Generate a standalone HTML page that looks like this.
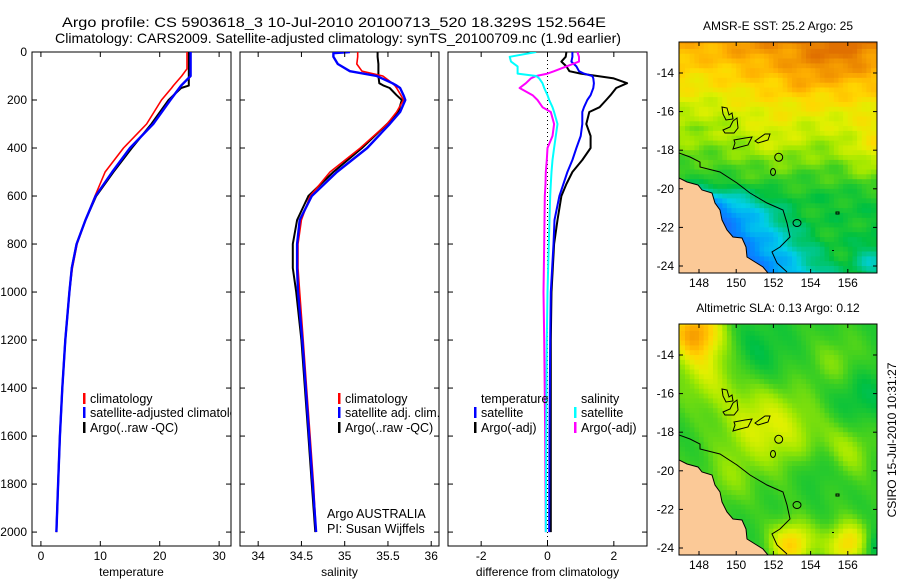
<!DOCTYPE html>
<html><head><meta charset="utf-8"><style>
html,body{margin:0;padding:0;background:#fff}
svg{display:block;font-family:"Liberation Sans",sans-serif}
</style></head><body>
<svg id="fig" width="900" height="580" viewBox="0 0 900 580" xmlns="http://www.w3.org/2000/svg">
<rect width="900" height="580" fill="#fff"/>
<text x="62" y="27" font-size="14" textLength="544" lengthAdjust="spacingAndGlyphs">Argo profile: CS 5903618_3 10-Jul-2010 20100713_520 18.329S 152.564E</text>
<text x="55" y="43" font-size="14" textLength="566" lengthAdjust="spacingAndGlyphs">Climatology: CARS2009. Satellite-adjusted climatology: synTS_20100709.nc (1.9d earlier)</text>
<g id="g1"></g><g id="g2"></g><g id="g3"></g><g id="m1"></g><g id="m2"></g>
<text transform="translate(896,440) rotate(-90)" text-anchor="middle" font-size="12">CSIRO 15-Jul-2010 10:31:27</text>
</svg>
<script>
// ---- data ----
const tempDepths=[0,70,100,140,150,200,300,400,500,600,700,800,900,1000,1200,1400,1600,1800,2000];
const tempClim=[24.6,24.6,23.7,22.3,22,20.3,17.8,13.9,10.8,9.1,7.5,6.1,5.3,4.8,4.1,3.6,3.2,2.9,2.6];
const tempSat=[25.2,25.2,25.2,23.6,23.3,21.8,18.9,15.0,12.0,9.2,7.5,6.0,5.2,4.8,4.1,3.6,3.2,2.9,2.6];
const tempArgo=[24.9,24.9,24.9,24.9,23.6,21.5,18.6,15.3,12.2,9.3,7.5,6.0,5.2,4.8,4.1,3.6,3.2,2.9,2.6];
const salDepths=[0,5,20,50,80,100,130,140,150,180,200,250,300,400,500,600,700,800,900,1000,1200,1400,1600,1800,2000];
const salClim=[35.15,35.15,35.15,35.14,35.2,35.44,35.55,35.58,35.6,35.65,35.68,35.6,35.49,35.18,34.83,34.6,34.5,34.46,34.46,34.48,34.52,34.56,34.6,34.64,34.67];
const salSat=[35.06,34.87,34.87,34.92,35.06,35.37,35.55,35.6,35.64,35.68,35.7,35.64,35.52,35.26,34.91,34.62,34.48,34.45,34.45,34.46,34.51,34.55,34.59,34.63,34.67];
const salArgo=[35.38,35.38,35.38,35.39,35.39,35.39,35.4,35.45,35.52,35.6,35.66,35.62,35.49,35.2,34.87,34.58,34.45,34.40,34.40,34.44,34.5,34.54,34.58,34.62,34.66];
const diffDepths=[0,20,40,60,80,90,100,110,130,150,180,200,230,250,300,350,400,450,500,550,600,700,800,1000,1200,1600,2000];
const diffTempSat=[0.75,0.75,0.72,0.87,0.95,1.1,1.35,1.38,1.4,1.38,1.3,1.2,1.1,1.05,1.05,1.0,0.87,0.75,0.6,0.48,0.36,0.21,0.18,0.1,0.08,0.06,0.05];
const diffTempArgo=[0.57,0.55,0.42,0.57,0.66,1.0,1.5,2.0,2.4,2.07,1.9,1.77,1.57,1.26,1.17,1.3,1.3,1.05,0.75,0.57,0.42,0.3,0.2,0.12,0.1,0.1,0.1];
const diffSalSat=[-0.34,-1.14,-1.1,-0.9,-0.9,-0.9,-0.34,-0.25,-0.15,-0.1,0.0,0.05,0.15,0.2,0.3,0.25,0.2,0.15,0.12,0.1,0.08,0.06,0.04,0.0,-0.02,-0.04,-0.05];
const diffSalArgo=[0.9,0.95,0.95,0.57,0.2,0.0,-0.34,-0.5,-0.65,-0.84,-0.45,-0.3,-0.15,0.1,0.2,0.15,0.0,-0.02,-0.05,-0.06,-0.08,-0.09,-0.1,-0.12,-0.1,-0.07,-0.05];
const depthTicks=[0,200,400,600,800,1000,1200,1400,1600,1800,2000];
const tempTicks=[0,10,20,30];
const salTicks=[34,34.5,35,35.5,36];
const diffTicks=[-2,0,2];
const lonTicks=[148,150,152,154,156];
const latTicks=[-14,-16,-18,-20,-22,-24];

const NS="http://www.w3.org/2000/svg";
function el(tag,attrs,parent,txt){const e=document.createElementNS(NS,tag);for(const k in attrs)e.setAttribute(k,attrs[k]);if(txt!==undefined)e.textContent=txt;parent.appendChild(e);return e;}
const TOP=52,BOT=546;
const yD=d=>TOP+d*(BOT-TOP)/2058;

function panel(gid,name,x0,x1,xmin,xmax,xticks,xlabel,showDepth){
  const g=document.getElementById(gid);
  const xs=v=>x0+(v-xmin)*(x1-x0)/(xmax-xmin);
  const r=el('rect',{x:x0,y:TOP,width:x1-x0,height:BOT-TOP,fill:'#fff',stroke:'#000','stroke-width':1},g);
  
  
  const cp=el('clipPath',{id:'cp'+gid},g);el('rect',{x:x0,y:TOP,width:x1-x0,height:BOT-TOP},cp);
  const inner=el('g',{'clip-path':'url(#cp'+gid+')'},g);
  xticks.forEach(t=>{const x=xs(t);
    el('line',{x1:x,x2:x,y1:TOP,y2:TOP+5,stroke:'#000'},g);
    el('line',{x1:x,x2:x,y1:BOT,y2:BOT-5,stroke:'#000'},g);
    const tx=el('text',{x:x,y:BOT+14,'text-anchor':'middle','font-size':12},g,String(t));
    
    
  });
  depthTicks.forEach(d=>{const y=yD(d);
    el('line',{x1:x0,x2:x0+5,y1:y,y2:y,stroke:'#000'},g);
    el('line',{x1:x1,x2:x1-5,y1:y,y2:y,stroke:'#000'},g);
    if(showDepth){const tx=el('text',{x:x0-5,y:y+4,'text-anchor':'end','font-size':12},g,String(d));
      
      }
  });
  const lb=el('text',{x:(x0+x1)/2,y:BOT+30,'text-anchor':'middle','font-size':12},g,xlabel);
  
  
  return {g:inner,xs};
}
function series(p,depths,vals,color,w,name){
  const pts=depths.map((d,i)=>p.xs(vals[i]).toFixed(1)+','+yD(d).toFixed(1)).join(' ');
  const l=el('polyline',{points:pts,fill:'none',stroke:color,'stroke-width':w,'stroke-linejoin':'round'},p.g);
  
  
}
function legend(g,x,y,color,label,name){
  el('rect',{x:x,y:y-10,width:2.5,height:11,fill:color},g);
  const t=el('text',{x:x+7,y:y,'font-size':12.5},g,label);
  
  
}
// panel 1
const p1=panel('g1','temperature',32,231,-1.5,32,tempTicks,'temperature',true);
series(p1,tempDepths,tempArgo,'#000',2,'argo-temperature-line');
series(p1,tempDepths,tempClim,'#f00',1.6,'climatology-temperature-line');
series(p1,tempDepths,tempSat,'#00f',2.4,'satellite-temperature-line');
legend(p1.g,83,403,'#f00','climatology','legend-climatology');
legend(p1.g,83,417,'#00f','satellite-adjusted climatology','legend-satellite-adjusted');
legend(p1.g,83,432,'#000','Argo(..raw -QC)','legend-argo');
// panel 2
const p2=panel('g2','salinity',240,439,33.79,36.09,salTicks,'salinity',false);
series(p2,salDepths,salArgo,'#000',2,'argo-salinity-line');
series(p2,salDepths,salClim,'#f00',1.6,'climatology-salinity-line');
series(p2,salDepths,salSat,'#00f',2.4,'satellite-salinity-line');
legend(p2.g,338,403,'#f00','climatology','legend-sal-climatology');
legend(p2.g,338,417,'#00f','satellite adj. clim.','legend-sal-satellite');
legend(p2.g,338,432,'#000','Argo(..raw -QC)','legend-sal-argo');
const a1=el('text',{x:327,y:518,'font-size':12.5},p2.g,'Argo AUSTRALIA');

const a2=el('text',{x:327,y:533,'font-size':12.5},p2.g,'PI: Susan Wijffels');

// panel 3
const p3=panel('g3','difference',448,647,-3,3,diffTicks,'difference from climatology',false);
el('line',{x1:p3.xs(0),x2:p3.xs(0),y1:TOP,y2:BOT,stroke:'#000','stroke-dasharray':'1,3'},p3.g);
series(p3,diffDepths,diffTempArgo,'#000',2,'argo-temperature-diff-line');
series(p3,diffDepths,diffTempSat,'#00f',2,'satellite-temperature-diff-line');
series(p3,diffDepths,diffSalArgo,'#f0f',2,'argo-salinity-diff-line');
series(p3,diffDepths,diffSalSat,'#0ff',2,'satellite-salinity-diff-line');
const h1=el('text',{x:481,y:403,'font-size':12.5},p3.g,'temperature');
const h2=el('text',{x:581,y:403,'font-size':12.5},p3.g,'salinity');
legend(p3.g,474,417,'#00f','satellite','legend-temp-satellite');
legend(p3.g,474,432,'#000','Argo(-adj)','legend-temp-argo');
legend(p3.g,574,417,'#0ff','satellite','legend-sal-satellite-diff');
legend(p3.g,574,432,'#f0f','Argo(-adj)','legend-sal-argo-diff');

// ---- maps ----
const stops=[[0,[32,96,255]],[0.15,[0,144,255]],[0.27,[0,208,232]],[0.36,[0,200,144]],[0.45,[0,192,64]],[0.55,[64,208,32]],[0.64,[160,232,0]],[0.72,[224,240,0]],[0.8,[255,216,0]],[0.88,[255,176,0]],[1,[224,112,0]]];
function cmap(t){t=Math.max(0,Math.min(1,t));for(let i=1;i<stops.length;i++){if(t<=stops[i][0]){const a=stops[i-1],b=stops[i];const f=(t-a[0])/(b[0]-a[0]);return 'rgb('+a[1].map((c,k)=>Math.round(c+(b[1][k]-c)*f)).join(',')+')';}}return 'rgb(224,112,0)';}
function sst(lon,lat){
  let t=lat>-20.5?0.48+0.058*(lat+20.5):0.48;
  t-=0.06*Math.exp(-((lon-148)**2)/6)*(lat>-17?1:0.5);
  t+=0.12*Math.exp(-((lon-157.5)**2+(lat+18)**2)/2);
  t+=0.08*Math.exp(-((lon-155.5)**2+(lat+13)**2)/3);
  t+=0.05*Math.exp(-((lon-153.5)**2+(lat+14.3)**2)/1);
  t+=0.05*Math.exp(-((lon-152)**2+(lat+17.5)**2)/1.5);
  const d=((lon-148)*5+(lat+19.4)*4.3)/6.6;
  const f=Math.max(0,Math.min(1,(-19.5-lat)/1.5));
  if(d<3)t-=0.32*(1-d/3)*f;
  t-=0.15*Math.exp(-((lon-157.3)**2+(lat+23.8)**2));
  t+=0.02*Math.sin(lon*3.1+lat*2.3)+0.02*Math.sin(lat*4.7-lon*1.3);
  return t;
}
const slaBumps=[[147.8,-12.8,0.38,1],[151,-17.5,0.15,1.5],[153,-18,0.1,1.5],[153,-23.8,0.3,0.8],[156,-23.8,0.28,0.8],[148.5,-15,0.15,1.2],[156,-19,0.12,1],[155.5,-14.5,0.1,1],[151,-14,-0.08,1.2],[156.5,-16,-0.09,1.2],[154.5,-19.8,-0.08,0.8],[157.6,-24,-0.15,0.6],[149.5,-20.5,0.08,1]];
function sla(lon,lat){let t=0.52;slaBumps.forEach(b=>{t+=b[2]*Math.exp(-((lon-b[0])**2+(lat-b[1])**2)/(2*b[3]*b[3]));});
  t+=0.02*Math.sin(lon*2.7+lat*1.9);return t;}
const land="679,178 687,182 698,185 702,190 712,193 715,203 720,210 722,220 727,230 733,237 742,238 746,247 747,257 755,262 763,267 768,273 679,273";
const isobath="679,153 690,157 700,162 700,167 720,172 737,183 750,193 767,203 783,210 787,223 790,237 780,247 772,252 777,263 787,272";
const reefs=["722,107 727,108 729,115 732,113 733,119 726,120 723,114","733,121 737,118 738,128 734,133 725,133 723,130 730,127","734,140 745,138 752,137 748,145 740,147 733,149 735,143","755,141 765,134 770,134 768,140 758,143"];
function map(gid,name,title,dy,field){
  const g=document.getElementById(gid);
  const X0=679,X1=877,Y0=42+dy,Y1=273+dy;
  const lx=lon=>699+(lon-148)*18.6, ly=lat=>73+dy+(-14-lat)*19.3;
  const clip=el('clipPath',{id:'c'+gid},g);el('rect',{x:X0,y:Y0,width:X1-X0,height:Y1-Y0},clip);
  const inner=el('g',{'clip-path':'url(#c'+gid+')'},g);
  const step=0.25;
  for(let lon=146.75;lon<157.75;lon+=step){for(let lat=-12.25;lat>-24.5;lat-=step){
    el('rect',{x:lx(lon).toFixed(1),y:ly(lat).toFixed(1),width:(step*18.6+0.6).toFixed(1),height:(step*19.3+0.6).toFixed(1),fill:cmap(field(lon+step/2,lat-step/2))},inner);}}
  const sh=el('g',{transform:'translate(0,'+dy+')'},inner);
  const L=el('polygon',{points:land,fill:'#fbc997',stroke:'#000','stroke-width':1},sh);
  
  const I=el('polyline',{points:isobath,fill:'none',stroke:'#000','stroke-width':1},sh);
  
  reefs.forEach(p=>el('polygon',{points:p,fill:'none',stroke:'#000','stroke-width':1},sh));
  el('circle',{cx:778.7,cy:157.3,r:4,fill:'none',stroke:'#000'},sh);
  el('ellipse',{cx:773,cy:172,rx:2.5,ry:3.5,fill:'none',stroke:'#000'},sh);
  el('ellipse',{cx:797,cy:223,rx:4,ry:3.5,fill:'none',stroke:'#000'},sh);
  el('rect',{x:836,y:212,width:3,height:2,fill:'none',stroke:'#000'},sh);
  el('rect',{x:832,y:250,width:2,height:1,fill:'#000'},sh);
  const fr=el('rect',{x:X0,y:Y0,width:X1-X0,height:Y1-Y0,fill:'none',stroke:'#000'},g);
  
  lonTicks.forEach(v=>{const x=lx(v);el('line',{x1:x,x2:x,y1:Y0,y2:Y0+4,stroke:'#000'},g);el('line',{x1:x,x2:x,y1:Y1,y2:Y1-4,stroke:'#000'},g);
    const t=el('text',{x:x,y:Y1+14,'text-anchor':'middle','font-size':12},g,String(v));
    });
  latTicks.forEach(v=>{const y=ly(v);el('line',{x1:X0,x2:X0+4,y1:y,y2:y,stroke:'#000'},g);el('line',{x1:X1,x2:X1-4,y1:y,y2:y,stroke:'#000'},g);
    const t=el('text',{x:X0-5,y:y+4,'text-anchor':'end','font-size':12},g,String(v));
    });
  const tt=el('text',{x:(X0+X1)/2,y:Y0-12,'text-anchor':'middle','font-size':12},g,title);
  
}
map('m1','sst-map','AMSR-E SST: 25.2 Argo: 25',0,sst);
map('m2','sla-map','Altimetric SLA: 0.13 Argo: 0.12',282,sla);
</script>
</body></html>
